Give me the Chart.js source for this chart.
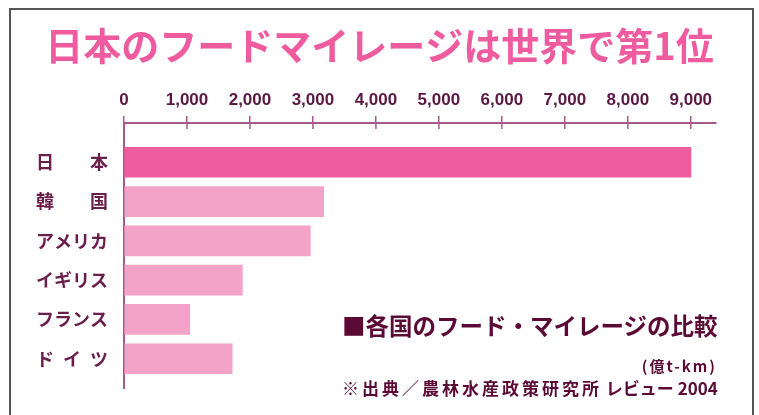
<!DOCTYPE html>
<html lang="ja">
<head>
<meta charset="utf-8">
<title>日本のフードマイレージは世界で第1位</title>
<script src="https://cdn.jsdelivr.net/npm/chart.js@4"></script>
<style>
  html, body { margin: 0; padding: 0; background: #fff; }
  #wrap { position: relative; width: 759px; height: 415px; overflow: hidden; }
  #frame {
    position: absolute; left: 9px; top: 8px; width: 741px; height: 430px;
    border: 2px solid #555; border-bottom: none;
  }
  canvas { position: absolute; left: 0; top: 0; }
  .note { position: absolute; font-family: "Noto Sans CJK JP", sans-serif; font-weight: bold; color: #5a0a35; white-space: nowrap; }
  #legendTitle { left: 342px; top: 314px; font-size: 23.5px; line-height: 23.5px; }
  #unit { right: 42px; top: 358px; font-size: 15px; line-height: 16px; letter-spacing: 2px; }
  #source { left: 342px; top: 378px; font-size: 17px; line-height: 19px; }
  #source .wide { letter-spacing: 3px; }
</style>
</head>
<body>
<div id="wrap">
  <div id="frame"></div>
  <canvas id="mileageChart" width="759" height="415"></canvas>
  <div class="note" id="legendTitle">■各国のフード・マイレージの比較</div>
  <div class="note" id="unit">(億t-km)</div>
  <div class="note" id="source"><span class="wide">※出典／農林水産政策研究所</span> レビュー 2004</div>
</div>
<script>
// Countries (top to bottom) and food mileage in 億t-km
const categories = ['日\u3000\u3000本', '韓\u3000\u3000国', 'アメリカ', 'イギリス', 'フランス', 'ド\u2002イ\u2002ツ'];
const mileage = [9002, 3171, 2958, 1880, 1044, 1718];
const xTicks = [0, 1000, 2000, 3000, 4000, 5000, 6000, 7000, 8000, 9000];

const JAPAN_PINK = '#ef5d9f';
const OTHER_PINK = '#f3a3c8';
const AXIS_COLOR = '#a65a8c';
const TEXT_COLOR = '#5a1842';

// draw the part of each x tick mark that crosses below the axis line
const innerTicks = {
    id: 'innerTicks',
    afterDraw(chart) {
        const { ctx, scales: { x }, chartArea } = chart;
        ctx.save();
        ctx.strokeStyle = AXIS_COLOR;
        ctx.lineWidth = 1.5;
        x.ticks.forEach(t => {
            const px = x.getPixelForValue(t.value);
            ctx.beginPath();
            ctx.moveTo(px, chartArea.top);
            ctx.lineTo(px, chartArea.top + 6);
            ctx.stroke();
        });
        ctx.restore();
    }
};

const ctx = document.getElementById('mileageChart').getContext('2d');
new Chart(ctx, {
    type: 'bar',
    data: {
        datasets: [{
            data: mileage.map((v, i) => ({ x: v, y: i })),
            backgroundColor: c => c.dataIndex === 0 ? JAPAN_PINK : OTHER_PINK,
            borderWidth: 0,
            barThickness: 30
        }]
    },
    options: {
        indexAxis: 'y',
        responsive: false,
        animation: false,
        layout: { padding: { top: 0, left: 0, right: 0, bottom: 22 } },
        plugins: {
            legend: { display: false },
            tooltip: { enabled: false },
            title: {
                display: true,
                text: '日本のフードマイレージは世界で第1位',
                color: '#ee5c9f',
                font: { family: '"Noto Sans CJK JP", sans-serif', size: 38, weight: 'bold', lineHeight: 1.2 },
                padding: { top: 23, bottom: 0 }
            }
        },
        scales: {
            x: {
                type: 'linear',
                position: 'top',
                min: 0,
                max: 9400,
                afterBuildTicks: s => { s.ticks = xTicks.map(v => ({ value: v })); },
                afterFit: s => { s.height = 123 - 68.6; },
                grid: { drawOnChartArea: false, drawTicks: true, tickLength: 7, color: AXIS_COLOR, lineWidth: 1.5 },
                border: { color: AXIS_COLOR, width: 2 },
                ticks: {
                    color: TEXT_COLOR,
                    padding: 5,
                    maxRotation: 0,
                    autoSkip: false,
                    font: { family: '"Liberation Sans", Arial, sans-serif', size: 17, weight: 'bold' },
                    callback: v => v.toLocaleString('en-US')
                }
            },
            y: {
                type: 'linear',
                reverse: true,
                offset: false,
                min: -1,
                max: 5.75,
                afterBuildTicks: s => { s.ticks = categories.map((c, i) => ({ value: i })); },
                afterFit: s => { s.width = 124; },
                grid: { display: false, drawTicks: false, offset: false },
                border: { color: AXIS_COLOR, width: 2 },
                ticks: {
                    color: '#6a1f4b',
                    padding: 16,
                    autoSkip: false,
                    font: { family: '"Noto Sans CJK JP", sans-serif', size: 18, weight: 'bold' },
                    callback: v => categories[v] ?? ''
                }
            },
            // empty right-hand axis: only reserves the margin so the title stays centred
            pad: {
                type: 'linear',
                position: 'right',
                afterFit: s => { s.width = 43; },
                grid: { display: false, drawTicks: false },
                border: { display: false },
                ticks: { display: false }
            }
        }
    },
    plugins: [innerTicks]
});
</script>
</body>
</html>
